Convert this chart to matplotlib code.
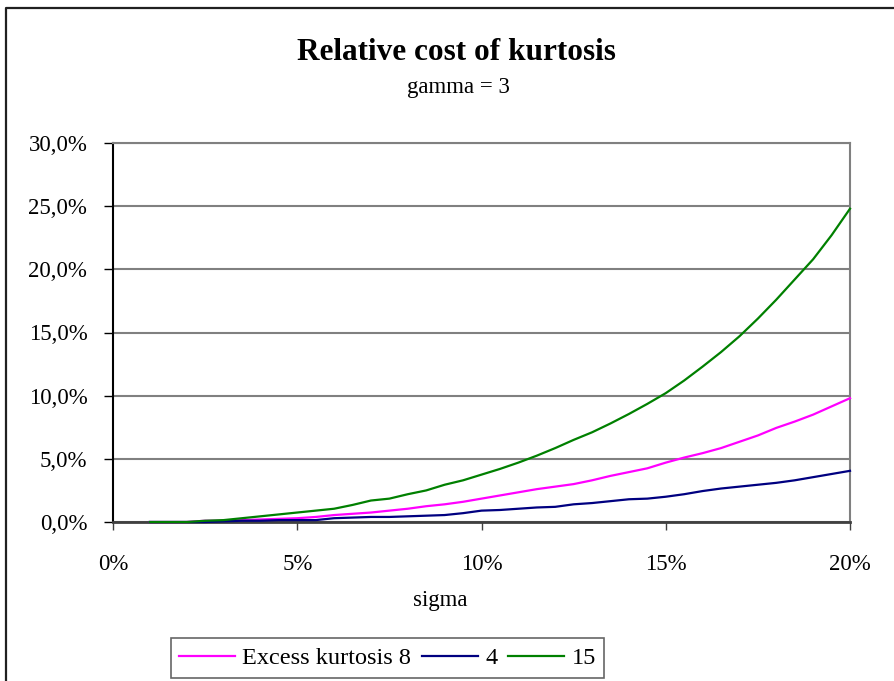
import matplotlib.pyplot as plt
from matplotlib.lines import Line2D
from matplotlib.ticker import FuncFormatter, MultipleLocator

plt.rcParams['font.family'] = ['Liberation Serif', 'DejaVu Serif']

# sigma in percent
sigma = [1.0, 1.5, 2.0, 2.5, 3.0, 3.5, 4.0, 4.5, 5.0, 5.5, 6.0, 6.5, 7.0, 7.5,
         8.0, 8.5, 9.0, 9.5, 10.0, 10.5, 11.0, 11.5, 12.0, 12.5, 13.0, 13.5,
         14.0, 14.5, 15.0, 15.5, 16.0, 16.5, 17.0, 17.5, 18.0, 18.5, 19.0,
         19.5, 20.0]

# relative cost in percent
kurt_8 = [0, 0, 0, 0.1, 0.1, 0.15, 0.2, 0.25, 0.3, 0.4, 0.55, 0.65, 0.75, 0.9,
          1.05, 1.25, 1.4, 1.6, 1.85, 2.1, 2.35, 2.6, 2.8, 3.0, 3.3, 3.65,
          3.95, 4.25, 4.7, 5.1, 5.45, 5.85, 6.35, 6.85, 7.45, 7.95, 8.5,
          9.15, 9.8]
kurt_4 = [0, 0, 0, 0, 0.05, 0.1, 0.1, 0.15, 0.15, 0.15, 0.3, 0.35, 0.4, 0.4,
          0.45, 0.5, 0.55, 0.7, 0.9, 0.95, 1.05, 1.15, 1.2, 1.4, 1.5, 1.65,
          1.8, 1.85, 2.0, 2.2, 2.45, 2.65, 2.8, 2.95, 3.1, 3.3, 3.55, 3.8,
          4.05]
kurt_15 = [0, 0, 0, 0.1, 0.15, 0.3, 0.45, 0.6, 0.75, 0.9, 1.05, 1.35, 1.7,
           1.85, 2.2, 2.5, 2.95, 3.3, 3.75, 4.2, 4.7, 5.25, 5.85, 6.5, 7.1,
           7.8, 8.55, 9.35, 10.2, 11.2, 12.3, 13.45, 14.7, 16.1, 17.6, 19.2,
           20.8, 22.7, 24.8]

W, H = 894, 681
fig = plt.figure(figsize=(W / 100, H / 100), dpi=100)
ax = fig.add_axes([113 / W, 1 - 522 / H, (850 - 113) / W, (522 - 143) / H])

# chart area border (clipped at right and bottom)
fig.add_artist(Line2D([6 / W, 6 / W, 1], [0, 1 - 8 / H, 1 - 8 / H],
                      transform=fig.transFigure, color='#202020', lw=1.6))

l1, = ax.plot(sigma, kurt_8, color='#FF00FF', lw=1.6, zorder=3, clip_on=False)
l2, = ax.plot(sigma, kurt_4, color='#000080', lw=1.6, zorder=3, clip_on=False)
l3, = ax.plot(sigma, kurt_15, color='#008000', lw=1.6, zorder=3, clip_on=False)

ax.set_xlim(0, 20)
ax.set_ylim(0, 30)
ax.xaxis.set_major_locator(MultipleLocator(5))
ax.yaxis.set_major_locator(MultipleLocator(5))
ax.xaxis.set_major_formatter(FuncFormatter(lambda v, p: f"{v:.0f}%"))
ax.yaxis.set_major_formatter(
    FuncFormatter(lambda v, p: f"{v:.1f}%".replace('.', ',')))

ax.yaxis.grid(True, color='#808080', lw=1.5)
ax.set_axisbelow(True)

ax.spines['left'].set_color('black')
ax.spines['left'].set_linewidth(1.5)
ax.spines['bottom'].set_color('#404040')
ax.spines['bottom'].set_linewidth(2)
ax.spines['top'].set_color('#808080')
ax.spines['top'].set_linewidth(1.5)
ax.spines['right'].set_color('#808080')
ax.spines['right'].set_linewidth(1.5)

ax.tick_params(axis='y', direction='out', length=6.5, width=1, color='black',
               labelsize=16.5, pad=12)
ax.tick_params(axis='x', direction='out', length=6, width=1, color='#404040',
               labelsize=16.5, pad=17)

ax.set_xlabel('sigma', fontsize=16.5)
ax.xaxis.set_label_coords((440 - 113) / (850 - 113), -(590 - 522) / (522 - 143))

fig.text(456 / W, 1 - 52 / H, 'Relative cost of kurtosis', ha='center',
         va='center', fontsize=22.5, fontweight='bold')
fig.text(458 / W, 1 - 87 / H, 'gamma = 3', ha='center', va='center',
         fontsize=16.5)

leg = fig.legend([l1, l2, l3], ['Excess kurtosis 8', '4', '15'], ncol=3,
                 loc='center', bbox_to_anchor=(387.5 / W, 1 - 658 / H),
                 fontsize=17.5, frameon=True, fancybox=False, shadow=False,
                 handlelength=2.3, handletextpad=0.3, columnspacing=0.45,
                 borderpad=0.35, borderaxespad=0)
leg.get_frame().set_edgecolor('#404040')
leg.get_frame().set_linewidth(1.2)

fig.savefig('out.png', dpi=100)
